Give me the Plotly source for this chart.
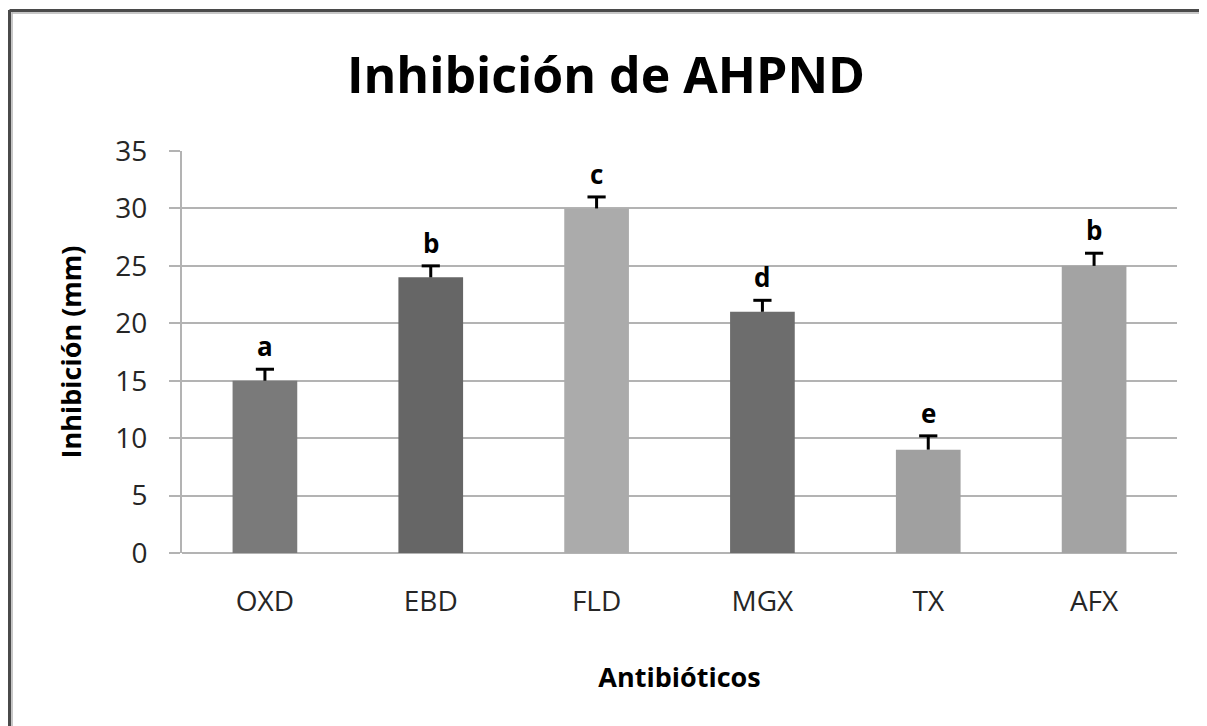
import plotly.graph_objects as go

categories = ["OXD", "EBD", "FLD", "MGX", "TX", "AFX"]
values = [15, 24, 30, 21, 9, 25]
errors = [1.0, 1.0, 1.0, 1.0, 1.2, 1.1]
letters = ["a", "b", "c", "d", "e", "b"]
colors = ["#7a7a7a", "#666666", "#ababab", "#6d6d6d", "#a0a0a0", "#a3a3a3"]
y_ticks = [0, 5, 10, 15, 20, 25, 30, 35]

OFF = 8  # page body margin
W, H = 1207 - OFF, 726 - OFF
L, T = 182 - OFF, 151 - OFF
pw, ph = 995, 402
R, B = W - L - pw, H - T - ph

FONT = "Open Sans"

fig = go.Figure()
fig.add_trace(go.Bar(
    x=categories, y=values,
    marker=dict(color=colors, line=dict(width=0)),
    showlegend=False, hoverinfo="x+y",
))

# plus-only error bars (stem from bar top to cap)
ex, ey = [], []
for c, v, e in zip(categories, values, errors):
    ex += [c, c, None]
    ey += [v, v + e, None]
fig.add_trace(go.Scatter(x=ex, y=ey, mode="lines",
                         line=dict(color="black", width=3),
                         showlegend=False, hoverinfo="skip"))
fig.add_trace(go.Scatter(x=categories, y=[v + e for v, e in zip(values, errors)],
                         mode="markers",
                         marker=dict(symbol="line-ew-open", size=13, color="black",
                                     line=dict(color="black", width=3)),
                         showlegend=False, hoverinfo="skip"))

for c, v, e, t in zip(categories, values, errors, letters):
    fig.add_annotation(x=c, y=v + e, text="<b>%s</b>" % t, showarrow=False,
                       yanchor="bottom", yshift=3,
                       font=dict(family=FONT, size=26, color="black"))

def fx(px):
    return (px - OFF - L) / pw

def fy(py):
    return (T + ph - (py - OFF)) / ph

# outer frame (left and top edges visible)
fig.add_shape(type="line", xref="paper", yref="paper",
              x0=fx(9.5), x1=fx(9.5), y0=fy(10), y1=fy(740),
              line=dict(color="#4a4a4a", width=3))
fig.add_shape(type="line", xref="paper", yref="paper",
              x0=fx(9.5), x1=fx(1220), y0=fy(10.5), y1=fy(10.5),
              line=dict(color="#4a4a4a", width=3))
fig.add_shape(type="line", xref="paper", yref="paper",
              x0=fx(12), x1=fx(12), y0=fy(12), y1=fy(740),
              line=dict(color="#b5b5b5", width=1.5))
fig.add_shape(type="line", xref="paper", yref="paper",
              x0=fx(12), x1=fx(1220), y0=fy(13), y1=fy(13),
              line=dict(color="#b5b5b5", width=1.5))

fig.update_layout(
    width=W, height=H,
    margin=dict(l=L, r=R, t=T, b=B, autoexpand=False),
    paper_bgcolor="white", plot_bgcolor="white",
    bargap=0.61,
    title=dict(text="<b>Inhibición de AHPND</b>", x=(606 - OFF) / W, xanchor="center",
               y=1 - (75 - OFF) / H, yanchor="middle", yref="container",
               font=dict(family=FONT, size=50, color="black")),
    xaxis=dict(
        showline=False, ticks="", showgrid=False,
        tickfont=dict(family=FONT, size=28, color="#262626"),
        ticklabelstandoff=29,
        title=dict(text="<b>Antibióticos</b>", standoff=50,
                   font=dict(family=FONT, size=27, color="black")),
    ),
    yaxis=dict(
        range=[0, 35], tickvals=y_ticks, ticktext=[str(v) for v in y_ticks],
        showgrid=True, gridcolor="#b3b3b3", gridwidth=2,
        showline=True, linecolor="#b3b3b3", linewidth=2,
        ticks="outside", ticklen=11, tickcolor="#b3b3b3", tickwidth=2,
        zeroline=True, zerolinecolor="#b3b3b3", zerolinewidth=2,
        tickfont=dict(family=FONT, size=28, color="#262626"),
        ticklabelstandoff=16,
        title=dict(text="<b>Inhibición (mm)</b>", standoff=26,
                   font=dict(family=FONT, size=27, color="black")),
    ),
)

fig.write_html("out.html")
